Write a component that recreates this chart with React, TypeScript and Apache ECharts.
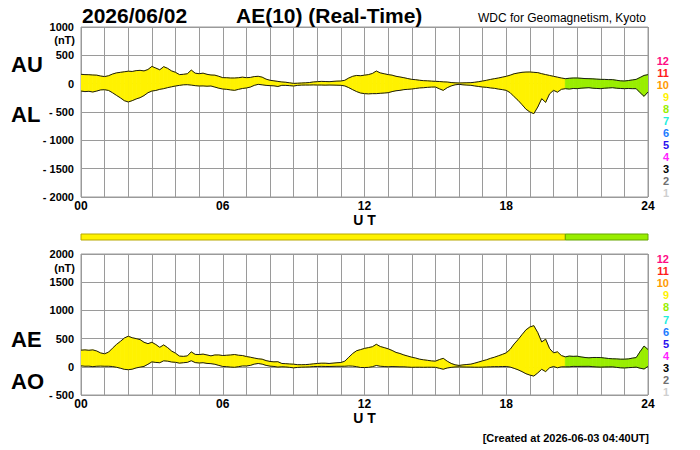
import React, { useEffect, useRef } from "react";
import * as echarts from "echarts";

// ---- data (10-minute steps, 00:00 .. 24:00 UT) ----
const AU = [
  165, 160, 158, 153, 150, 135,
  125, 140, 170, 190, 200, 210,
  220, 215, 230, 235, 225, 250,
  305, 275, 245, 300, 270, 225,
  200, 160, 165, 175, 240, 185,
  176, 185, 165, 153, 150, 130,
  106, 105, 100, 100, 105, 115,
  106, 110, 125, 130, 115, 80,
  60, 50, 40, 30, 25, 15,
  5, 8, 12, 15, 20, 30,
  35, 40, 38, 35, 40, 45,
  47, 60, 100, 130, 145, 140,
  150, 160, 180, 223, 190, 175,
  160, 150, 130, 118, 105, 90,
  76, 70, 60, 53, 50, 45,
  41, 38, 32, 29, 20, 15,
  12, 14, 16, 18, 25, 35,
  47, 60, 75, 88, 100, 115,
  130, 150, 175, 188, 200, 205,
  206, 200, 195, 176, 160, 145,
  130, 115, 100, 88, 95, 100,
  100, 95, 90, 88, 85, 80,
  76, 75, 72, 71, 60, 50,
  47, 55, 65, 76, 110, 145,
  159,
];
const AL = [
  -130, -140, -135, -147, -130, -110,
  -106, -120, -160, -206, -250, -300,
  -323, -300, -270, -247, -210, -160,
  -130, -120, -100, -88, -70, -55,
  -41, -30, -20, -18, -25, -35,
  -41, -40, -45, -41, -60, -80,
  -94, -100, -110, -118, -100, -85,
  -76, -60, -30, -12, -20, -30,
  -35, -38, -50, -29, -30, -35,
  -41, -30, -25, -24, -24, -22,
  -24, -24, -26, -24, -25, -27,
  -29, -40, -70, -106, -140, -165,
  -176, -180, -176, -176, -170, -165,
  -159, -140, -125, -118, -105, -100,
  -94, -85, -75, -71, -65, -60,
  -59, -90, -118, -71, -40, -20,
  -12, -20, -25, -29, -40, -50,
  -59, -65, -75, -82, -95, -105,
  -118, -160, -230, -294, -370, -450,
  -500, -529, -412, -265, -330, -180,
  -118, -150, -100, -88, -95, -85,
  -88, -80, -75, -71, -80, -85,
  -88, -80, -75, -71, -80, -85,
  -88, -85, -88, -88, -160, -223,
  -147,
];
const STEP_HOURS = 1 / 6;
const STATION_SEGMENTS = [
  { from: 0, to: 20.5, count: 9 },
  { from: 20.5, to: 24, count: 8 },
];
const X_TICK_LABELS = ["00", "06", "12", "18", "24"];
const LEVEL_LABELS = ["12", "11", "10", "9", "8", "7", "6", "5", "4", "3", "2", "1"];
const LEVEL_COLORS: Record<string, string> = {
  "12": "#ff0a84",
  "11": "#ff1a1a",
  "10": "#ff9a00",
  "9": "#fff200",
  "8": "#99ee00",
  "7": "#22eedd",
  "6": "#1a7bff",
  "5": "#2b10ee",
  "4": "#ff22ff",
  "3": "#000000",
  "2": "#707070",
  "1": "#cfcfcf",
};
const BAND_BORDER: Record<string, string> = { "9": "#b8a800", "8": "#66a600" };

const FONT = "'Liberation Sans', Arial, Helvetica, sans-serif";

export default function App() {
  const ref = useRef<HTMLDivElement>(null);

  useEffect(() => {
    if (!ref.current) return;
    const chart = echarts.init(ref.current, undefined, { renderer: "svg" });

    const times = AU.map((_, i) => i * STEP_HOURS);
    const AE = AU.map((u, i) => u - AL[i]);
    const AO = AU.map((u, i) => (u + AL[i]) / 2);

    const countAt = (t: number) => {
      const s = STATION_SEGMENTS.find((g) => t >= g.from - 1e-9 && t < g.to - 1e-9);
      return s ? s.count : STATION_SEGMENTS[STATION_SEGMENTS.length - 1].count;
    };

    // quads between lower and upper curve, one data item per 10-minute interval
    const bandData = (lower: number[], upper: number[]) =>
      times.slice(0, -1).map((t, i) => [
        t,
        times[i + 1],
        lower[i],
        upper[i],
        lower[i + 1],
        upper[i + 1],
        countAt(t + STEP_HOURS / 2),
      ]);

    const bandSeries = (xi: number, lower: number[], upper: number[]) => ({
      type: "custom",
      xAxisIndex: xi,
      yAxisIndex: xi,
      silent: true,
      z: 2,
      clip: true,
      encode: { x: [0, 1], y: [2, 3, 4, 5] },
      data: bandData(lower, upper),
      renderItem: (params: any, api: any) => {
        const a = api.coord([api.value(0), api.value(3)]);
        const b = api.coord([api.value(1), api.value(5)]);
        const c = api.coord([api.value(1), api.value(4)]);
        const d = api.coord([api.value(0), api.value(2)]);
        const col = LEVEL_COLORS[String(api.value(6))];
        return {
          type: "polygon",
          shape: { points: [a, b, c, d] },
          style: { fill: col, stroke: col, lineWidth: 0.8 },
        };
      },
    });

    const lineSeries = (xi: number, vals: number[]) => ({
      type: "line",
      xAxisIndex: xi,
      yAxisIndex: xi,
      data: vals.map((v, i) => [times[i], v]),
      showSymbol: false,
      symbol: "none",
      lineStyle: { color: "#1a1a1a", width: 1 },
      silent: true,
      z: 3,
    });

    const series: any[] = [
      bandSeries(0, AL, AU),
      bandSeries(1, AO, AE),
      lineSeries(0, AU),
      lineSeries(0, AL),
      lineSeries(1, AE),
      lineSeries(1, AO),
      {
        type: "custom",
        xAxisIndex: 2,
        yAxisIndex: 2,
        silent: true,
        data: STATION_SEGMENTS.map((s) => [s.from, s.to, s.count]),
        renderItem: (params: any, api: any) => {
          const p0 = api.coord([api.value(0), 0]);
          const p1 = api.coord([api.value(1), 1]);
          const c = String(api.value(2));
          return {
            type: "rect",
            shape: { x: p0[0], y: p1[1], width: p1[0] - p0[0], height: p0[1] - p1[1] },
            style: { fill: LEVEL_COLORS[c], stroke: BAND_BORDER[c] || "#888", lineWidth: 1 },
          };
        },
      },
    ];

    const xAxisBase = (gi: number) => ({
      type: "value",
      gridIndex: gi,
      min: 0,
      max: 24,
      interval: 1,
      axisLine: { show: false },
      axisTick: { show: false },
      splitLine: { show: true, lineStyle: { color: "#9a9a9a", width: 1 } },
      axisLabel: {
        margin: 3,
        color: "#000",
        fontFamily: FONT,
        fontWeight: "bold",
        fontSize: 12,
        formatter: (v: number) => (v % 6 === 0 ? X_TICK_LABELS[v / 6] : ""),
      },
      name: "U T",
      nameLocation: "middle",
      nameGap: 15,
      nameTextStyle: { color: "#000", fontFamily: FONT, fontWeight: "bold", fontSize: 14 },
    });
    const yAxisBase = (gi: number, min: number, max: number) => ({
      type: "value",
      gridIndex: gi,
      min,
      max,
      interval: 500,
      axisLine: { show: false },
      axisTick: { show: false },
      splitLine: { show: true, lineStyle: { color: "#9a9a9a", width: 1 } },
      axisLabel: {
        margin: 7,
        color: "#000",
        fontFamily: FONT,
        fontWeight: "bold",
        fontSize: 11,
        formatter: (v: number) => (v < 0 ? "- " + -v : String(v)),
      },
    });

    const txt = (text: string, x: number, y: number, size: number, opts: any = {}) => ({
      type: "text",
      x,
      y,
      silent: true,
      style: {
        text,
        fill: opts.fill || "#000",
        font: `${opts.weight || "bold"} ${size}px ${FONT}`,
        align: opts.align || "left",
        verticalAlign: "middle",
      },
    });

    const graphics: any[] = [
      txt("2026/06/02", 82, 15, 21),
      txt("AE(10) (Real-Time)", 236, 15, 21),
      txt("WDC for Geomagnetism, Kyoto", 646, 18, 12, { weight: "normal", align: "right" }),
      txt("AU", 11, 64, 22),
      txt("AL", 11, 114, 22),
      txt("AE", 11, 339, 22),
      txt("AO", 11, 381, 22),
      txt("(nT)", 75, 40, 11, { align: "right" }),
      txt("(nT)", 75, 268, 11, { align: "right" }),
      txt("[Created at 2026-06-03 04:40UT]", 649, 438, 11, { align: "right" }),
    ];
    LEVEL_LABELS.forEach((l, k) => {
      graphics.push(txt(l, 669, 61 + 12 * k, 11, { align: "right", fill: LEVEL_COLORS[l] }));
      graphics.push(txt(l, 669, 259 + 12.1 * k, 11, { align: "right", fill: LEVEL_COLORS[l] }));
    });

    chart.setOption({
      animation: false,
      backgroundColor: "#ffffff",
      grid: [
        { left: 81, right: 52, top: 27, height: 170, show: true, borderColor: "#9a9a9a", borderWidth: 1, backgroundColor: "transparent" },
        { left: 81, right: 52, top: 254, height: 141, show: true, borderColor: "#9a9a9a", borderWidth: 1, backgroundColor: "transparent" },
        { left: 81, right: 52, top: 234, height: 6 },
      ],
      xAxis: [
        xAxisBase(0),
        xAxisBase(1),
        { type: "value", gridIndex: 2, min: 0, max: 24, show: false },
      ],
      yAxis: [
        yAxisBase(0, -2000, 1000),
        yAxisBase(1, -500, 2000),
        { type: "value", gridIndex: 2, min: 0, max: 1, show: false },
      ],
      series,
      graphic: graphics,
    });

    return () => chart.dispose();
  }, []);

  return (
    <div
      ref={ref}
      style={{ position: "fixed", left: 0, top: 0, width: 700, height: 450, background: "#fff" }}
    />
  );
}
